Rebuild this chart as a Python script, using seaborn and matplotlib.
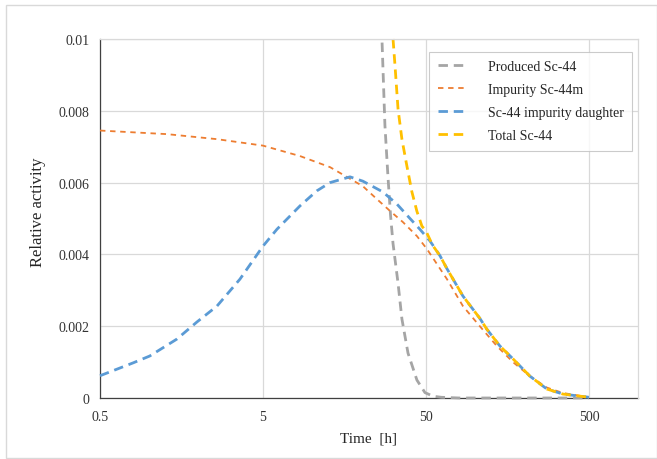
import numpy as np
import pandas as pd
import seaborn as sns
import matplotlib.pyplot as plt
from matplotlib.ticker import LogLocator, FixedLocator, MultipleLocator, FuncFormatter
from matplotlib.patches import Rectangle

# valores (tiempo en horas, actividad relativa)
t_produced = [26.9, 28.0, 29.2, 30.3, 31.4, 33.7, 35.6, 38.8, 44.0, 49.3, 55.2, 62.0, 80.0, 150.0, 500.0]
a_produced = [0.0099, 0.0076, 0.0062, 0.0051, 0.0043, 0.0032, 0.0022, 0.00125, 0.0005, 0.00015,
              0.00005, 0.00002, 0.0, 0.0, 0.0]

t_impurity = [0.5, 1.29, 2.61, 5.0, 8.43, 12.9, 20.5, 25.0, 30.1, 36.1, 44.0, 50.7, 67.3, 84.3,
              107, 136, 171, 217, 276, 346, 500]
a_impurity = [0.00745, 0.00735, 0.00721, 0.00703, 0.00674, 0.00643, 0.0059, 0.00554, 0.00521, 0.0049,
              0.00451, 0.00415, 0.00331, 0.00256, 0.0020, 0.00145, 0.0010, 0.00061, 0.00029, 0.00014,
              0.00002]

t_daughter = [0.5, 0.8, 1.01, 1.48, 1.97, 2.61, 3.61, 5.0, 6.09, 8.43, 10.7, 12.9, 17.1, 20.5, 27.2,
              33.2, 39.9, 45.9, 53.0, 61.0, 67.3, 84.3, 107, 118, 142, 171, 217, 276, 346, 500]
a_daughter = [0.00062, 0.00098, 0.00117, 0.00164, 0.00212, 0.00256, 0.00331, 0.00423, 0.0047, 0.00535,
              0.00577, 0.0060, 0.00616, 0.00604, 0.00574, 0.0054, 0.0050, 0.0047, 0.00437, 0.00396,
              0.0036, 0.00284, 0.00222, 0.00192, 0.00145, 0.00109, 0.00061, 0.00025, 0.00011, 0.00002]

t_total = [31.4, 32.3, 33.7, 35.6, 38.2, 41.0, 44.0, 47.2, 50.0, 55.0, 61.0, 67.3, 84.3, 107, 118,
           142, 171, 217, 276, 346, 500]
a_total = [0.0100, 0.00925, 0.00805, 0.00721, 0.00646, 0.00574, 0.0052, 0.00479, 0.00465, 0.00425,
           0.00396, 0.0036, 0.00284, 0.00222, 0.00192, 0.00145, 0.00109, 0.00061, 0.00025, 0.00011,
           0.00002]

x_ticks = [0.5, 5, 50, 500]
x_labels = ["0.5", "5", "50", "500"]
y_ticks = [0, 0.002, 0.004, 0.006, 0.008, 0.01]

series = [
    ("Produced Sc-44", t_produced, a_produced, "#A5A5A5", 2.0, (0, (3.4, 2.1))),
    ("Impurity Sc-44m", t_impurity, a_impurity, "#ED7D31", 1.3, (0, (3.0, 2.6))),
    ("Sc-44 impurity daughter", t_daughter, a_daughter, "#5B9BD5", 2.0, (0, (3.4, 2.1))),
    ("Total Sc-44", t_total, a_total, "#FFC000", 2.0, (0, (3.4, 2.1))),
]

sns.set_style("white")
plt.rcParams["font.family"] = ["Liberation Serif", "DejaVu Serif"]

fig = plt.figure(figsize=(6.57, 4.60), dpi=100)
ax = fig.add_axes([100 / 657, 1 - 399 / 460, 538 / 657, 359 / 460])

for name, t, a, color, lw, ls in series:
    df = pd.DataFrame({"t": t, "a": a})
    sns.lineplot(data=df, x="t", y="a", ax=ax, color=color, linewidth=lw,
                 linestyle=ls, label=name, clip_on=False, estimator=None, sort=False)

ax.set_xscale("log")
ax.set_xlim(0.5, 1000)
ax.set_ylim(0, 0.01)
ax.xaxis.set_major_locator(FixedLocator(x_ticks))
ax.set_xticks(x_ticks)
ax.set_xticklabels(x_labels)
ax.xaxis.set_minor_locator(LogLocator(base=10, subs=np.arange(1.0, 5.0, 0.5), numticks=20))
ax.xaxis.set_minor_formatter(FuncFormatter(lambda v, p: ""))
ax.set_yticks(y_ticks)
ax.yaxis.set_major_formatter(FuncFormatter(lambda v, p: f"{v:g}"))
ax.yaxis.set_minor_locator(MultipleLocator(0.0004))

ax.grid(True, which="major", color="#D9D9D9", linewidth=0.9)
ax.set_axisbelow(True)
for side in ["top", "right"]:
    ax.spines[side].set_color("#D9D9D9")
    ax.spines[side].set_linewidth(0.9)
for side in ["left", "bottom"]:
    ax.spines[side].set_color("#404040")
    ax.spines[side].set_linewidth(0.9)
    ax.spines[side].set_zorder(1)

ax.tick_params(axis="both", which="major", direction="out", length=3.5, width=0.8,
               color="#404040", labelsize=10, labelcolor="#333333", pad=4)
ax.tick_params(axis="y", which="minor", direction="inout", length=4, width=0.8, color="#404040")
ax.tick_params(axis="x", which="minor", direction="in", length=3, width=0.8, color="#404040")
ax.tick_params(axis="x", which="major", pad=5)

ax.set_xlabel("Time  [h]", fontsize=11, color="#262626", labelpad=6)
ax.set_ylabel("Relative activity", fontsize=12, color="#262626")
ax.yaxis.set_label_coords(-0.100, 0.52)

leg = ax.legend(loc="upper right", bbox_to_anchor=(632 / 657, 1 - 53 / 460),
                bbox_transform=fig.transFigure, fontsize=10, frameon=True, fancybox=False,
                edgecolor="#BFBFBF", handlelength=2.1, handletextpad=1.5, labelspacing=0.72,
                borderpad=0.6, borderaxespad=0)
leg.get_frame().set_linewidth(0.8)
for txt in leg.get_texts():
    txt.set_color("#262626")

fig.patches.append(Rectangle((6 / 657, 1 / 460), 1 - 6 / 657, 1 - 7 / 460,
                             transform=fig.transFigure, fill=False,
                             edgecolor="#D9D9D9", linewidth=1))

plt.savefig("out.png", dpi=100)
plt.close()
